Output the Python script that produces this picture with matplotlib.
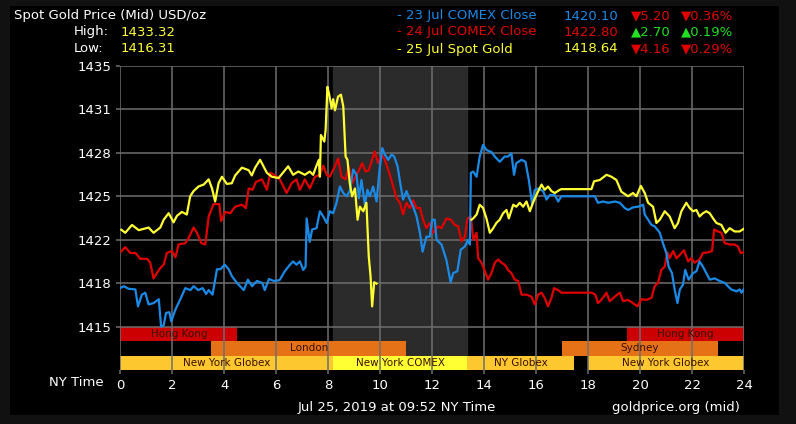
import matplotlib
matplotlib.use("Agg")
import matplotlib.pyplot as plt
from matplotlib.patches import Rectangle

# hours (NY time) and prices
comex23_h = [0, 0.13, 0.32, 0.58, 0.68, 0.83, 0.96, 1.09, 1.28, 1.48, 1.57, 1.67, 1.76, 1.89, 1.96,
             2.12, 2.31, 2.5, 2.7, 2.82, 3.0, 3.17, 3.3, 3.4, 3.55, 3.72, 3.85, 4.02, 4.17, 4.3, 4.49,
             4.75, 4.91, 5.07, 5.26, 5.46, 5.56, 5.72, 5.91, 6.1, 6.14, 6.33, 6.53, 6.65, 6.78, 6.91,
             7.04, 7.13, 7.17, 7.29, 7.38, 7.55, 7.68, 7.81, 7.94, 8.06, 8.19, 8.32, 8.45, 8.58, 8.71,
             8.83, 8.96, 9.09, 9.18, 9.28, 9.41, 9.51, 9.6, 9.73, 9.86, 9.99, 10.08, 10.18, 10.31,
             10.44, 10.54, 10.67, 10.76, 10.88, 11.01, 11.14, 11.27, 11.4, 11.53, 11.63, 11.78, 11.91,
             12.0, 12.1, 12.17, 12.36, 12.55, 12.71, 12.81, 12.97, 13.1, 13.26, 13.38, 13.45, 13.49,
             13.58, 13.71, 13.83, 13.96, 14.09, 14.28, 14.41, 14.6, 14.79, 14.92, 15.05, 15.15, 15.24,
             15.44, 15.59, 15.72, 15.85, 15.95, 16.08, 16.27, 16.4, 16.53, 16.72, 16.85, 16.97, 17.49,
             18.26, 18.38, 18.58, 18.77, 19.03, 19.22, 19.41, 19.54, 19.73, 19.92, 20.12, 20.18, 20.31,
             20.44, 20.56, 20.76, 20.88, 21.01, 21.1, 21.23, 21.33, 21.44, 21.53, 21.65, 21.74, 21.87,
             22.04, 22.17, 22.29, 22.42, 22.55, 22.68, 22.87, 23.06, 23.26, 23.38, 23.51, 23.71, 23.83,
             23.9, 23.99]
comex23_p = [1417.96, 1418.1, 1417.9, 1417.85, 1416.55, 1417.45, 1417.6, 1416.7, 1416.8, 1417.1,
             1415.0, 1415.1, 1416.05, 1416.1, 1415.4, 1416.3, 1417.1, 1417.95, 1417.8, 1418.1, 1417.8,
             1417.95, 1417.5, 1417.8, 1417.45, 1419.4, 1419.4, 1419.75, 1419.4, 1418.85, 1418.35,
             1417.8, 1418.6, 1418.1, 1418.5, 1418.35, 1417.8, 1418.65, 1418.5, 1418.55, 1418.6,
             1419.25, 1419.75, 1420.0, 1419.75, 1420.0, 1419.35, 1419.6, 1423.3, 1421.5, 1422.45,
             1422.55, 1423.85, 1423.45, 1422.95, 1423.85, 1423.7, 1424.5, 1425.75, 1425.25, 1425.0,
             1425.4, 1427.05, 1426.65, 1424.85, 1426.25, 1424.35, 1425.5, 1425.0, 1425.75, 1424.6,
             1427.3, 1428.7, 1428.2, 1427.8, 1428.2, 1428.05, 1427.3, 1426.15, 1424.75, 1425.4,
             1424.75, 1424.2, 1423.45, 1422.2, 1420.75, 1421.9, 1421.9, 1423.2, 1423.2, 1421.65,
             1421.3, 1420.1, 1418.4, 1419.1, 1419.25, 1420.9, 1421.15, 1421.65, 1421.3, 1426.8,
             1426.9, 1426.5, 1428.05, 1428.95, 1428.55, 1428.4, 1428.05, 1427.65, 1428.05, 1428.05,
             1428.3, 1426.65, 1427.55, 1427.8, 1427.65, 1426.25, 1424.35, 1425.5, 1425.6, 1425.4,
             1424.75, 1425.1, 1425.1, 1424.6, 1425.0, 1425.0, 1425.0, 1424.5, 1424.6, 1424.5, 1424.6,
             1424.5, 1424.1, 1423.95, 1424.15, 1424.2, 1424.35, 1423.6, 1423.2, 1422.8, 1422.7,
             1422.2, 1421.4, 1420.65, 1419.6, 1419.1, 1417.85, 1416.8, 1417.85, 1418.2, 1419.35,
             1418.6, 1419.1, 1419.25, 1420.0, 1419.6, 1419.1, 1418.6, 1418.7, 1418.5, 1418.35,
             1418.1, 1417.85, 1417.7, 1417.85, 1417.6, 1417.85]

comex24_h = [0.04, 0.19, 0.38, 0.58, 0.77, 1.03, 1.15, 1.28, 1.41, 1.54, 1.67, 1.79, 1.99, 2.12,
             2.24, 2.5, 2.63, 2.82, 2.95, 3.12, 3.27, 3.4, 3.59, 3.81, 3.88, 4.04, 4.23, 4.42, 4.68,
             4.83, 4.94, 5.09, 5.22, 5.45, 5.64, 5.77, 5.96, 6.14, 6.4, 6.59, 6.78, 6.91, 7.1, 7.29,
             7.49, 7.68, 7.81, 7.94, 8.06, 8.26, 8.38, 8.51, 8.67, 8.79, 8.92, 9.09, 9.22, 9.31, 9.44,
             9.56, 9.69, 9.79, 9.92, 10.05, 10.18, 10.37, 10.5, 10.63, 10.76, 10.88, 11.01, 11.14,
             11.27, 11.4, 11.53, 11.65, 11.78, 11.91, 12.04, 12.17, 12.23, 12.36, 12.55, 12.72, 12.87,
             13.0, 13.13, 13.26, 13.36, 13.49, 13.58, 13.71, 13.77, 13.9, 14.03, 14.15, 14.28, 14.41,
             14.54, 14.67, 14.79, 14.92, 15.05, 15.18, 15.31, 15.44, 15.63, 15.82, 15.95, 16.08,
             16.21, 16.33, 16.46, 16.59, 16.69, 16.85, 16.97, 18.13, 18.28, 18.38, 18.51, 18.71,
             18.83, 19.03, 19.22, 19.35, 19.54, 19.73, 19.9, 20.05, 20.24, 20.44, 20.56, 20.69, 20.82,
             20.95, 21.05, 21.14, 21.27, 21.4, 21.53, 21.69, 21.85, 21.97, 22.1, 22.29, 22.42, 22.62,
             22.77, 22.85, 23.0, 23.13, 23.26, 23.45, 23.64, 23.77, 23.87, 23.99]
comex24_p = [1420.77, 1421.1, 1420.65, 1420.65, 1420.2, 1420.2, 1419.9, 1418.7, 1419.1, 1419.5,
             1419.75, 1420.65, 1420.8, 1420.3, 1421.3, 1421.4, 1421.8, 1422.6, 1422.2, 1421.4, 1421.3,
             1423.45, 1424.4, 1424.4, 1423.1, 1423.8, 1423.7, 1424.2, 1424.35, 1424.1, 1425.6, 1425.5,
             1426.1, 1426.3, 1425.5, 1426.8, 1426.6, 1426.3, 1425.25, 1426.0, 1426.3, 1425.5, 1426.3,
             1425.6, 1426.5, 1426.65, 1427.35, 1426.65, 1426.5, 1427.3, 1427.9, 1426.5, 1426.3,
             1427.3, 1426.0, 1426.65, 1427.15, 1427.55, 1426.9, 1427.0, 1427.8, 1428.45, 1427.55,
             1428.2, 1427.8, 1426.65, 1425.75, 1424.85, 1424.5, 1423.6, 1424.5, 1424.1, 1424.7,
             1424.1, 1424.1, 1423.2, 1422.55, 1422.95, 1422.2, 1422.55, 1422.7, 1422.55, 1423.3,
             1423.2, 1422.8, 1422.7, 1421.55, 1421.9, 1423.3, 1423.45, 1421.65, 1422.2, 1420.25,
             1419.9, 1419.25, 1418.6, 1419.1, 1419.9, 1420.15, 1419.9, 1419.75, 1419.35, 1419.1,
             1418.6, 1418.5, 1417.45, 1417.45, 1417.3, 1416.7, 1417.45, 1417.6, 1417.2, 1416.55,
             1417.2, 1417.95, 1417.8, 1417.6, 1417.6, 1417.45, 1416.8, 1417.05, 1417.6, 1416.95,
             1417.3, 1417.6, 1416.95, 1417.05, 1416.8, 1416.55, 1417.1, 1417.05, 1417.2, 1418.1,
             1418.35, 1419.35, 1419.6, 1420.7, 1420.25, 1420.8, 1420.25, 1420.5, 1420.85, 1420.0,
             1420.25, 1419.9, 1420.15, 1420.65, 1420.7, 1420.8, 1422.45, 1422.3, 1422.2, 1421.4,
             1421.3, 1421.3, 1421.15, 1420.65, 1420.7]

# 25 Jul spot: morning up to 09:52, then the evening part after the COMEX close
spot_am_h = [0.04, 0.19, 0.45, 0.71, 1.09, 1.28, 1.54, 1.67, 1.86, 2.05, 2.18, 2.37, 2.56, 2.69,
             2.82, 3.01, 3.21, 3.4, 3.53, 3.65, 3.78, 3.91, 4.1, 4.29, 4.42, 4.68, 4.94, 5.06, 5.19,
             5.38, 5.51, 5.64, 5.83, 6.09, 6.46, 6.65, 6.85, 7.1, 7.29, 7.42, 7.55, 7.64, 7.68, 7.72,
             7.85, 7.9, 7.97, 8.04, 8.13, 8.19, 8.26, 8.38, 8.49, 8.58, 8.67, 8.74, 8.83, 8.92, 9.03,
             9.13, 9.22, 9.35, 9.47, 9.56, 9.63, 9.69, 9.77, 9.86]
spot_am_p = [1422.43, 1422.2, 1422.8, 1422.4, 1422.6, 1422.2, 1422.6, 1423.2, 1423.7, 1423.0,
             1423.5, 1423.8, 1423.6, 1425.0, 1425.4, 1425.75, 1425.9, 1426.3, 1425.6, 1424.6, 1426.0,
             1426.5, 1425.95, 1426.0, 1426.6, 1427.2, 1427.0, 1426.6, 1427.2, 1427.8, 1427.3, 1426.8,
             1426.5, 1426.4, 1427.3, 1426.65, 1426.9, 1426.65, 1426.9, 1426.65, 1427.35, 1427.8,
             1426.5, 1429.7, 1429.2, 1430.1, 1433.4, 1432.8, 1431.75, 1432.45, 1431.6, 1432.65,
             1432.8, 1431.9, 1428.05, 1427.8, 1426.0, 1425.0, 1425.6, 1423.2, 1424.2, 1423.85, 1424.5,
             1420.4, 1418.85, 1416.55, 1418.4, 1418.3]
spot_pm_h = [13.51, 13.58, 13.71, 13.83, 13.96, 14.09, 14.22, 14.35, 14.47, 14.6, 14.73, 14.86,
             14.95, 15.12, 15.24, 15.37, 15.5, 15.63, 15.76, 15.88, 16.01, 16.21, 16.33, 16.46, 16.59,
             16.72, 16.91, 16.97, 18.13, 18.23, 18.45, 18.71, 18.9, 19.09, 19.28, 19.54, 19.73, 19.86,
             20.03, 20.18, 20.31, 20.5, 20.63, 20.76, 20.95, 21.14, 21.33, 21.46, 21.59, 21.78, 21.91,
             22.04, 22.17, 22.29, 22.42, 22.55, 22.68, 22.81, 22.94, 23.13, 23.29, 23.45, 23.64,
             23.83, 23.99]
spot_pm_p = [1423.2, 1423.3, 1423.6, 1424.35, 1424.1, 1423.3, 1422.2, 1422.55, 1422.95, 1423.2,
             1423.7, 1423.95, 1423.3, 1424.35, 1424.2, 1424.5, 1424.2, 1424.6, 1423.85, 1424.5,
             1425.1, 1425.9, 1425.5, 1425.75, 1425.4, 1425.25, 1425.5, 1425.55, 1425.55, 1426.15,
             1426.25, 1426.65, 1426.5, 1426.25, 1425.35, 1425.0, 1425.25, 1425.0, 1425.8, 1425.25,
             1424.5, 1424.2, 1422.95, 1423.2, 1423.85, 1423.45, 1422.55, 1422.95, 1423.85, 1424.5,
             1424.1, 1423.85, 1423.95, 1423.45, 1423.7, 1423.85, 1423.7, 1423.3, 1422.95, 1422.8,
             1422.2, 1422.55, 1422.3, 1422.3, 1422.5]

y_ticks = [1415, 1418.333, 1421.667, 1425, 1428.333, 1431.667, 1435]
y_labels = ["1415", "1418", "1422", "1425", "1428", "1431", "1435"]
x_ticks = list(range(0, 25, 2))

# market sessions: (name, start, end, row, colour)
sessions = [("Hong Kong", 0, 4.5, 0, "#cc0000"),
            ("Hong Kong", 19.5, 24, 0, "#cc0000"),
            ("London", 3.5, 11, 1, "#e57217"),
            ("Sydney", 17, 23, 1, "#e57217"),
            ("New York Globex", 0, 8.2, 2, "#fdc82f"),
            ("New York COMEX", 8.2, 13.35, 2, "#ffff33"),
            ("NY Globex", 13.35, 17.45, 2, "#fdc82f"),
            ("New York Globex", 18, 24, 2, "#fdc82f")]

BLUE = "#1a8ae6"
RED = "#e00000"
YEL = "#ffff33"
W, H = 796, 424

fig = plt.figure(figsize=(W / 100, H / 100), dpi=100, facecolor="#111111")
fig.patches.append(Rectangle((10 / W, 9 / H), 769 / W, 409 / H, transform=fig.transFigure,
                             facecolor="black", edgecolor="none", zorder=-10))

ax = fig.add_axes([120.3 / W, 54 / H, 623.7 / W, 304 / H], zorder=5)
ax.set_facecolor("black")
ymin = 1415 - 20 / 6
ax.set_xlim(0, 24)
ax.set_ylim(ymin, 1435)

ax.axvspan(8.2, 13.35, color="#2b2b2b", zorder=0)

row_h = (1415 - ymin) / 3
for name, s, e, row, col in sessions:
    y0 = 1415 - (row + 1) * row_h
    ax.broken_barh([(s, e - s)], (y0, row_h), facecolor=col, edgecolor="none", zorder=1)
    ax.text((s + e) / 2, y0 + row_h / 2, name, ha="center", va="center", fontsize=7.5,
            color="#3a1000", zorder=2)

for yt in y_ticks:
    ax.axhline(yt, color="#6e6e6e", lw=1.1, zorder=1.5)
for xt in x_ticks:
    ax.axvline(xt, color="#6e6e6e", lw=1.1, zorder=1.5)

ax.plot(comex24_h, comex24_p, color=RED, lw=1.6, zorder=3)
ax.plot(comex23_h, comex23_p, color=BLUE, lw=1.6, zorder=3)
ax.plot(spot_am_h, spot_am_p, color=YEL, lw=1.6, zorder=4)
ax.plot(spot_pm_h, spot_pm_p, color=YEL, lw=1.6, zorder=4)

ax.set_yticks(y_ticks)
ax.set_yticklabels(y_labels)
ax.set_xticks(x_ticks)
ax.tick_params(colors="#6e6e6e", labelcolor="white", labelsize=9.5, length=3, width=1.1)
for sp in ax.spines.values():
    sp.set_visible(False)


def ftext(x, y, s, color="white", **kw):
    fig.text(x / W, 1 - y / H, s, color=color, fontsize=9.5, va="center", **kw)


ftext(14, 16, "Spot Gold Price (Mid) USD/oz")
ftext(74, 32, "High:")
ftext(121, 32, "1433.32", color=YEL)
ftext(74, 49, "Low:")
ftext(121, 49, "1416.31", color=YEL)

GREEN = "#22e022"
rows = [("- 23 Jul COMEX Close", "1420.10", "\u25bc5.20", "\u25bc0.36%", BLUE, RED, 16),
        ("- 24 Jul COMEX Close", "1422.80", "\u25b22.70", "\u25b20.19%", RED, GREEN, 32),
        ("- 25 Jul Spot Gold", "1418.64", "\u25bc4.16", "\u25bc0.29%", YEL, RED, 49)]
for label, price, chg, pct, c1, c2, y in rows:
    ftext(397, y, label, color=c1)
    ftext(564, y, price, color=c1)
    ftext(631, y, chg, color=c2)
    ftext(681, y, pct, color=c2)

ftext(104, 382, "NY Time", ha="right")
ftext(298, 408, "Jul 25, 2019 at 09:52 NY Time")
ftext(740, 408, "goldprice.org (mid)", ha="right")

fig.savefig("out.png", dpi=100, facecolor=fig.get_facecolor())
